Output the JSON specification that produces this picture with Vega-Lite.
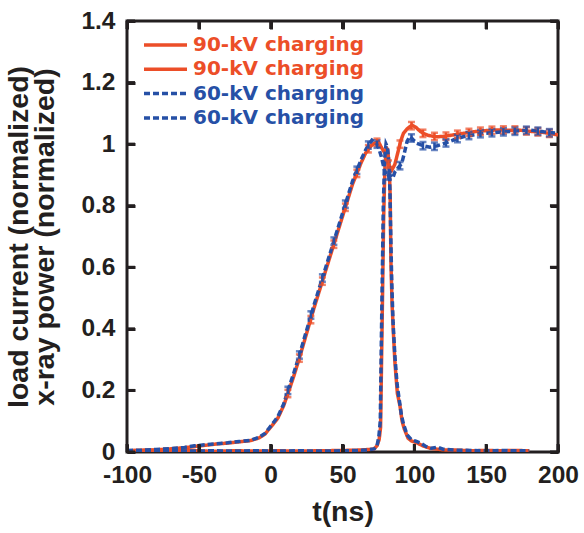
{
  "$schema": "https://vega.github.io/schema/vega-lite/v6.json",
  "width": 431,
  "height": 431,
  "autosize": "none",
  "padding": {"left": 127, "top": 21, "right": 26, "bottom": 81},
  "background": "white",
  "config": {
    "font": "Liberation Sans",
    "view": {"stroke": "#231f20", "strokeWidth": 3, "fill": "transparent"},
    "axis": {
      "domain": false,
      "grid": false,
      "labelFont": "Liberation Sans",
      "labelFontWeight": "bold",
      "labelFontSize": 24.5,
      "labelColor": "#231f20",
      "titleFont": "Liberation Sans",
      "titleFontWeight": "bold",
      "titleFontSize": 28.5,
      "titleColor": "#231f20"
    }
  },
  "datasets": {
    "lines": [
      {"s":"a","t":-100,"v":0.004},{"s":"a","t":-90,"v":0.005},{"s":"a","t":-80,"v":0.007},{"s":"a","t":-70,"v":0.01},{"s":"a","t":-60,"v":0.014},{"s":"a","t":-53,"v":0.018},{"s":"a","t":-45,"v":0.022},{"s":"a","t":-38,"v":0.026},{"s":"a","t":-30,"v":0.029},{"s":"a","t":-22,"v":0.033},{"s":"a","t":-14,"v":0.037},{"s":"a","t":-8,"v":0.046},{"s":"a","t":-4,"v":0.058},{"s":"a","t":-1,"v":0.075},{"s":"a","t":2,"v":0.092},{"s":"a","t":5,"v":0.11},{"s":"a","t":9,"v":0.15},{"s":"a","t":12,"v":0.19},{"s":"a","t":16,"v":0.245},{"s":"a","t":20,"v":0.305},{"s":"a","t":25,"v":0.385},{"s":"a","t":30,"v":0.465},{"s":"a","t":35,"v":0.54},{"s":"a","t":41,"v":0.63},{"s":"a","t":47,"v":0.72},{"s":"a","t":53,"v":0.81},{"s":"a","t":57,"v":0.87},{"s":"a","t":60,"v":0.905},{"s":"a","t":63,"v":0.94},{"s":"a","t":66,"v":0.97},{"s":"a","t":69,"v":0.99},{"s":"a","t":72,"v":1.003},{"s":"a","t":75,"v":1.008},{"s":"a","t":77,"v":0.99},{"s":"a","t":79.6,"v":0.97},{"s":"a","t":82,"v":0.935},{"s":"a","t":84.4,"v":0.916},{"s":"a","t":86.5,"v":0.935},{"s":"a","t":88.9,"v":0.98},{"s":"a","t":90.5,"v":1.01},{"s":"a","t":92.4,"v":1.035},{"s":"a","t":95,"v":1.05},{"s":"a","t":98.4,"v":1.062},{"s":"a","t":101,"v":1.055},{"s":"a","t":104,"v":1.042},{"s":"a","t":106.2,"v":1.035},{"s":"a","t":110,"v":1.028},{"s":"a","t":115.6,"v":1.024},{"s":"a","t":120,"v":1.025},{"s":"a","t":127,"v":1.03},{"s":"a","t":134,"v":1.035},{"s":"a","t":141,"v":1.04},{"s":"a","t":150,"v":1.044},{"s":"a","t":157,"v":1.046},{"s":"a","t":165,"v":1.045},{"s":"a","t":172,"v":1.046},{"s":"a","t":180,"v":1.042},{"s":"a","t":190,"v":1.038},{"s":"a","t":200,"v":1.03},
      {"s":"b","t":-100,"v":0.004},{"s":"b","t":-85,"v":0.006},{"s":"b","t":-70,"v":0.003},{"s":"b","t":-55,"v":0.005},{"s":"b","t":-40,"v":0.002},{"s":"b","t":-25,"v":0.004},{"s":"b","t":-10,"v":0.003},{"s":"b","t":5,"v":0.004},{"s":"b","t":20,"v":0.003},{"s":"b","t":35,"v":0.004},{"s":"b","t":50,"v":0.005},{"s":"b","t":60,"v":0.006},{"s":"b","t":68,"v":0.008},{"s":"b","t":72,"v":0.01},{"s":"b","t":74,"v":0.02},{"s":"b","t":75.5,"v":0.04},{"s":"b","t":76.5,"v":0.08},{"s":"b","t":77.2,"v":0.3},{"s":"b","t":78,"v":0.55},{"s":"b","t":78.6,"v":0.75},{"s":"b","t":79.5,"v":0.92},{"s":"b","t":80.5,"v":0.99},{"s":"b","t":81.5,"v":0.98},{"s":"b","t":82.5,"v":0.93},{"s":"b","t":83.2,"v":0.83},{"s":"b","t":83.7,"v":0.62},{"s":"b","t":84.5,"v":0.48},{"s":"b","t":85.4,"v":0.39},{"s":"b","t":86.5,"v":0.29},{"s":"b","t":88.2,"v":0.19},{"s":"b","t":90,"v":0.15},{"s":"b","t":91.5,"v":0.1},{"s":"b","t":93,"v":0.075},{"s":"b","t":95.6,"v":0.045},{"s":"b","t":98,"v":0.036},{"s":"b","t":101.6,"v":0.03},{"s":"b","t":106,"v":0.02},{"s":"b","t":111,"v":0.012},{"s":"b","t":120,"v":0.007},{"s":"b","t":130,"v":0.006},{"s":"b","t":140,"v":0.004},{"s":"b","t":150,"v":0.005},{"s":"b","t":160,"v":0.004},{"s":"b","t":170,"v":0.005},{"s":"b","t":180,"v":0.004},
      {"s":"c","t":-100,"v":0.005},{"s":"c","t":-90,"v":0.006},{"s":"c","t":-80,"v":0.008},{"s":"c","t":-70,"v":0.011},{"s":"c","t":-60,"v":0.015},{"s":"c","t":-53,"v":0.02},{"s":"c","t":-45,"v":0.024},{"s":"c","t":-38,"v":0.027},{"s":"c","t":-30,"v":0.03},{"s":"c","t":-22,"v":0.034},{"s":"c","t":-14,"v":0.038},{"s":"c","t":-8,"v":0.048},{"s":"c","t":-4,"v":0.06},{"s":"c","t":-1,"v":0.078},{"s":"c","t":2,"v":0.096},{"s":"c","t":5,"v":0.115},{"s":"c","t":9,"v":0.155},{"s":"c","t":12,"v":0.2},{"s":"c","t":16,"v":0.255},{"s":"c","t":20,"v":0.315},{"s":"c","t":25,"v":0.395},{"s":"c","t":30,"v":0.475},{"s":"c","t":35,"v":0.55},{"s":"c","t":41,"v":0.64},{"s":"c","t":47,"v":0.73},{"s":"c","t":53,"v":0.82},{"s":"c","t":57,"v":0.88},{"s":"c","t":60,"v":0.915},{"s":"c","t":63,"v":0.95},{"s":"c","t":66,"v":0.98},{"s":"c","t":68.5,"v":1.0},{"s":"c","t":70.5,"v":1.013},{"s":"c","t":73,"v":1.005},{"s":"c","t":75,"v":0.99},{"s":"c","t":77,"v":0.96},{"s":"c","t":79,"v":0.92},{"s":"c","t":80.7,"v":0.894},{"s":"c","t":83,"v":0.9},{"s":"c","t":85,"v":0.89},{"s":"c","t":86.5,"v":0.91},{"s":"c","t":89,"v":0.925},{"s":"c","t":91.2,"v":0.937},{"s":"c","t":93,"v":0.97},{"s":"c","t":95,"v":1.01},{"s":"c","t":97,"v":1.025},{"s":"c","t":99,"v":1.015},{"s":"c","t":101.6,"v":1.003},{"s":"c","t":106,"v":0.995},{"s":"c","t":110.9,"v":0.99},{"s":"c","t":116,"v":0.995},{"s":"c","t":121.3,"v":1.003},{"s":"c","t":128,"v":1.015},{"s":"c","t":134,"v":1.024},{"s":"c","t":141,"v":1.03},{"s":"c","t":148,"v":1.035},{"s":"c","t":155,"v":1.037},{"s":"c","t":162,"v":1.04},{"s":"c","t":170,"v":1.042},{"s":"c","t":180.5,"v":1.046},{"s":"c","t":190,"v":1.04},{"s":"c","t":200,"v":1.035},
      {"s":"d","t":-100,"v":0.003},{"s":"d","t":-85,"v":0.004},{"s":"d","t":-70,"v":0.005},{"s":"d","t":-55,"v":0.003},{"s":"d","t":-40,"v":0.004},{"s":"d","t":-25,"v":0.003},{"s":"d","t":-10,"v":0.004},{"s":"d","t":5,"v":0.003},{"s":"d","t":20,"v":0.004},{"s":"d","t":35,"v":0.003},{"s":"d","t":50,"v":0.004},{"s":"d","t":60,"v":0.005},{"s":"d","t":68,"v":0.007},{"s":"d","t":72,"v":0.01},{"s":"d","t":74,"v":0.02},{"s":"d","t":75.3,"v":0.05},{"s":"d","t":76.3,"v":0.1},{"s":"d","t":77,"v":0.35},{"s":"d","t":77.8,"v":0.6},{"s":"d","t":78.4,"v":0.8},{"s":"d","t":79.3,"v":0.95},{"s":"d","t":80.3,"v":1.0},{"s":"d","t":81.3,"v":0.99},{"s":"d","t":82.3,"v":0.94},{"s":"d","t":83,"v":0.85},{"s":"d","t":83.6,"v":0.7},{"s":"d","t":84.3,"v":0.55},{"s":"d","t":85.2,"v":0.42},{"s":"d","t":86.5,"v":0.31},{"s":"d","t":88,"v":0.22},{"s":"d","t":89.5,"v":0.17},{"s":"d","t":91,"v":0.12},{"s":"d","t":92.5,"v":0.09},{"s":"d","t":95,"v":0.055},{"s":"d","t":98,"v":0.04},{"s":"d","t":101,"v":0.035},{"s":"d","t":104,"v":0.03},{"s":"d","t":108,"v":0.018},{"s":"d","t":112,"v":0.012},{"s":"d","t":116,"v":0.016},{"s":"d","t":120,"v":0.009},{"s":"d","t":130,"v":0.006},{"s":"d","t":140,"v":0.005},{"s":"d","t":150,"v":0.004},{"s":"d","t":160,"v":0.005},{"s":"d","t":170,"v":0.004},{"s":"d","t":180,"v":0.004}
    ],
    "errs": [
      {"s":"a","t":12,"lo":0.178,"hi":0.202},{"s":"a","t":20,"lo":0.293,"hi":0.317},{"s":"a","t":28,"lo":0.418,"hi":0.442},{"s":"a","t":36,"lo":0.543,"hi":0.567},{"s":"a","t":44,"lo":0.663,"hi":0.687},{"s":"a","t":52,"lo":0.783,"hi":0.807},{"s":"a","t":60,"lo":0.893,"hi":0.917},{"s":"a","t":68,"lo":0.973,"hi":0.997},{"s":"a","t":74,"lo":0.994,"hi":1.018},{"s":"a","t":82,"lo":0.923,"hi":0.947},{"s":"a","t":90,"lo":0.988,"hi":1.012},{"s":"a","t":98,"lo":1.048,"hi":1.072},{"s":"a","t":106,"lo":1.023,"hi":1.047},{"s":"a","t":114,"lo":1.013,"hi":1.037},{"s":"a","t":122,"lo":1.014,"hi":1.038},{"s":"a","t":130,"lo":1.02,"hi":1.044},{"s":"a","t":138,"lo":1.026,"hi":1.05},{"s":"a","t":146,"lo":1.03,"hi":1.054},{"s":"a","t":154,"lo":1.033,"hi":1.057},{"s":"a","t":162,"lo":1.034,"hi":1.058},{"s":"a","t":170,"lo":1.034,"hi":1.058},{"s":"a","t":178,"lo":1.031,"hi":1.055},{"s":"a","t":186,"lo":1.028,"hi":1.052},{"s":"a","t":194,"lo":1.023,"hi":1.047},
      {"s":"c","t":12,"lo":0.188,"hi":0.212},{"s":"c","t":20,"lo":0.303,"hi":0.327},{"s":"c","t":28,"lo":0.433,"hi":0.457},{"s":"c","t":36,"lo":0.553,"hi":0.577},{"s":"c","t":44,"lo":0.673,"hi":0.697},{"s":"c","t":52,"lo":0.793,"hi":0.817},{"s":"c","t":60,"lo":0.903,"hi":0.927},{"s":"c","t":68,"lo":0.985,"hi":1.009},{"s":"c","t":74,"lo":0.988,"hi":1.012},{"s":"c","t":82,"lo":0.885,"hi":0.909},{"s":"c","t":90,"lo":0.918,"hi":0.942},{"s":"c","t":98,"lo":1.008,"hi":1.032},{"s":"c","t":106,"lo":0.983,"hi":1.007},{"s":"c","t":114,"lo":0.981,"hi":1.005},{"s":"c","t":122,"lo":0.992,"hi":1.016},{"s":"c","t":130,"lo":1.006,"hi":1.03},{"s":"c","t":138,"lo":1.016,"hi":1.04},{"s":"c","t":146,"lo":1.022,"hi":1.046},{"s":"c","t":154,"lo":1.025,"hi":1.049},{"s":"c","t":162,"lo":1.028,"hi":1.052},{"s":"c","t":170,"lo":1.03,"hi":1.054},{"s":"c","t":178,"lo":1.033,"hi":1.057},{"s":"c","t":186,"lo":1.03,"hi":1.054},{"s":"c","t":194,"lo":1.025,"hi":1.049}
    ],
    "xticks": [{"t":-100},{"t":-50},{"t":0},{"t":50},{"t":100},{"t":150},{"t":200}],
    "yticks": [{"v":0},{"v":0.2},{"v":0.4},{"v":0.6},{"v":0.8},{"v":1},{"v":1.2},{"v":1.4}]
  },
  "resolve": {"axis": {"x": "independent", "y": "independent"}},
  "layer": [
    {
      "data": {"name": "lines"},
      "mark": {"type": "line", "strokeWidth": 3.5, "clip": true},
      "encoding": {
        "x": {"field": "t", "type": "quantitative", "scale": {"domain": [-100, 200], "nice": false},
          "axis": {"orient": "bottom", "zindex": 2, "offset": -8, "ticks": true, "tickSize": 8, "tickWidth": 3, "tickColor": "#231f20", "tickOpacity": 1,
            "values": [-100, -50, 0, 50, 100, 150, 200], "labelExpr": "toString(datum.value)", "title": "t(ns)", "labelPadding": 11, "titlePadding": 11, "labelFlush": false}},
        "y": {"field": "v", "type": "quantitative", "scale": {"domain": [0, 1.4], "nice": false},
          "axis": {"orient": "left", "zindex": 2, "offset": -8, "ticks": true, "tickSize": 8, "tickWidth": 3, "tickColor": "#231f20", "tickOpacity": 1,
            "values": [0, 0.2, 0.4, 0.6, 0.8, 1, 1.2, 1.4], "labelExpr": "toString(datum.value)", "labelPadding": 12, "titlePadding": 21, "labelFlush": false,
            "title": ["load current (normalized)", "x-ray power (normalized)"], "titleLineHeight": 26}},
        "color": {"field": "s", "type": "nominal",
          "scale": {"domain": ["a", "b", "c", "d"], "range": ["#EC4E28", "#EC4E28", "#2650A6", "#2650A6"]},
          "legend": {
            "title": null, "orient": "none", "legendX": 28.5, "legendY": 14,
            "symbolType": "M-4.3,0H4.3", "symbolSize": 100, "symbolStrokeWidth": 3.5, "symbolFillColor": "transparent",
            "labelFont": "DejaVu Sans", "labelFontSize": 20, "labelFontWeight": "bold", "labelOffset": 17.5, "labelLimit": 400,
            "rowPadding": 4.3, "padding": 0,
            "labelExpr": "datum.value == 'a' || datum.value == 'b' ? '90-kV charging' : '60-kV charging'",
            "encode": {"labels": {"update": {"fill": {"signal": "datum.value == 'a' || datum.value == 'b' ? '#EC4E28' : '#2650A6'"}}}}
          }},
        "strokeDash": {"field": "s", "type": "nominal",
          "scale": {"domain": ["a", "b", "c", "d"], "range": [[1, 0], [1, 0], [6, 3], [6, 3]]}}
      }
    },
    {
      "data": {"name": "errs"},
      "mark": {"type": "errorbar", "ticks": {"size": 7}, "thickness": 2.5},
      "encoding": {
        "x": {"field": "t", "type": "quantitative",
          "axis": {"orient": "top", "zindex": 2, "offset": -8, "ticks": true, "tickSize": 8, "tickWidth": 3, "tickColor": "#231f20", "tickOpacity": 1,
            "values": [-100, -50, 0, 50, 100, 150, 200], "labels": false, "title": null}},
        "y": {"field": "lo", "type": "quantitative",
          "axis": {"orient": "right", "zindex": 2, "offset": -8, "ticks": true, "tickSize": 8, "tickWidth": 3, "tickColor": "#231f20", "tickOpacity": 1,
            "values": [0, 0.2, 0.4, 0.6, 0.8, 1, 1.2, 1.4], "labels": false, "title": null}},
        "y2": {"field": "hi"},
        "color": {"field": "s", "type": "nominal"}
      }
    },
    {
      "data": {"name": "xticks"},
      "mark": {"type": "rule", "strokeWidth": 3, "color": "#231f20"},
      "encoding": {
        "x": {"field": "t", "type": "quantitative", "axis": null},
        "y": {"datum": 0, "type": "quantitative", "axis": null},
        "y2": {"datum": 0.026}
      }
    },
    {
      "data": {"name": "xticks"},
      "mark": {"type": "rule", "strokeWidth": 3, "color": "#231f20"},
      "encoding": {
        "x": {"field": "t", "type": "quantitative", "axis": null},
        "y": {"datum": 1.374, "type": "quantitative", "axis": null},
        "y2": {"datum": 1.4}
      }
    },
    {
      "data": {"name": "yticks"},
      "mark": {"type": "rule", "strokeWidth": 3, "color": "#231f20"},
      "encoding": {
        "y": {"field": "v", "type": "quantitative", "axis": null},
        "x": {"datum": -100, "type": "quantitative", "axis": null},
        "x2": {"datum": -94.4}
      }
    },
    {
      "data": {"name": "yticks"},
      "mark": {"type": "rule", "strokeWidth": 3, "color": "#231f20"},
      "encoding": {
        "y": {"field": "v", "type": "quantitative", "axis": null},
        "x": {"datum": 194.4, "type": "quantitative", "axis": null},
        "x2": {"datum": 200}
      }
    }
  ]
}
